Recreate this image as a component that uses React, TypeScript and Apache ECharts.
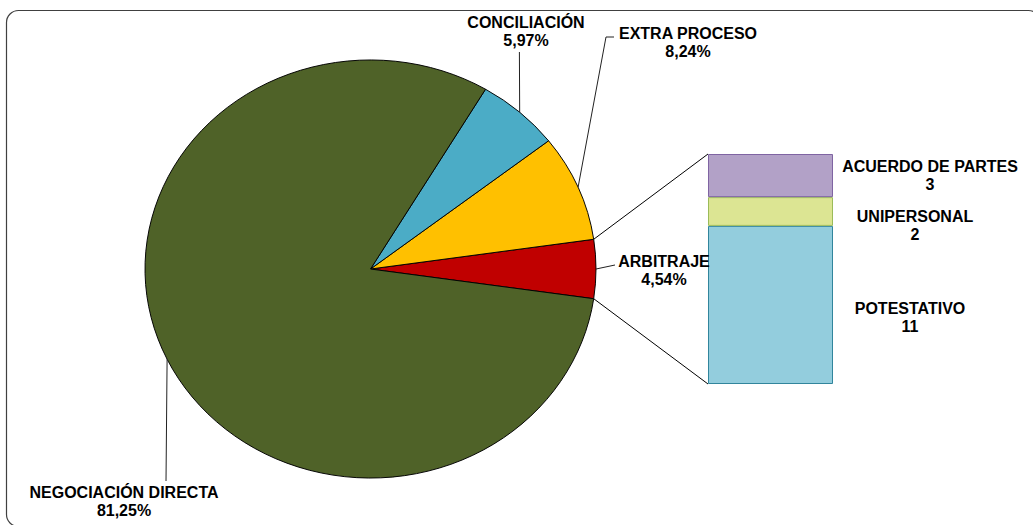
import React, { useEffect, useRef } from "react";
import * as echarts from "echarts";

// ---- data ----
const CATEGORIES = ["ARBITRAJE", "EXTRA PROCESO", "CONCILIACIÓN", "NEGOCIACIÓN DIRECTA"];
const PERCENTS = [4.54, 8.24, 5.97, 81.25];
const SUB_CATEGORIES = ["POTESTATIVO", "UNIPERSONAL", "ACUERDO DE PARTES"];
const SUB_VALUES = [11, 2, 3];

// ---- styles / layout ----
const PIE_COLORS = ["#C00000", "#FFC000", "#4BACC6", "#4F6228"];
const SUB_COLORS = ["#93CDDD", "#DCE593", "#B2A1C7"];
const SUB_BORDERS = ["#31859C", "#9BBB59", "#7F64A2"];
const CX = 370.5;
const CY = 269;
const RX = 225.5;
const RY = 209;
const BAR_LEFT = 708;
const BAR_TOP = 154;
const BAR_W = 125;
const BAR_H = 230;
const FONT = "'Liberation Sans', Arial, sans-serif";
const FS = 16;
// label text centre and leader-line points (after the slice edge point)
const LABEL_LAYOUT = [
  { text: [664, 270], line: [[615, 265]] },
  { text: [688, 42], line: [[606, 37], [614, 37]] },
  { text: [526, 31], line: [[519.4, 52]] },
  { text: [124, 501], line: [[166, 481]] },
];
const SUB_LABEL_POS: any[] = [
  [202, 92],
  [207, "100%"],
  [222, "50%"],
];

export default function App() {
  const ref = useRef<HTMLDivElement>(null);
  useEffect(() => {
    if (!ref.current) return;
    const chart = echarts.init(ref.current, null, { renderer: "svg" });
    const total = PERCENTS.reduce((a, b) => a + b, 0);
    const start = -(PERCENTS[0] / total) * 360 / 2;
    const angles: number[][] = [];
    let cum = 0;
    PERCENTS.forEach((v) => {
      const a0 = start + (cum / total) * 360;
      cum += v;
      const a1 = start + (cum / total) * 360;
      angles.push([a0, a1]);
    });
    const edge = (deg: number) => {
      const t = (deg * Math.PI) / 180;
      return [CX + RX * Math.cos(t), CY - RY * Math.sin(t)];
    };
    const fmt = (v: number) => v.toFixed(2).replace(".", ",") + "%";

    const renderItem = (params: any, api: any) => {
      const i = params.dataIndex;
      const v = api.value(0);
      const [a0, a1] = angles[i];
      const mid = (a0 + a1) / 2;
      const lay = LABEL_LAYOUT[i];
      const children: any[] = [
        {
          type: "sector",
          x: CX,
          y: CY,
          scaleY: RY / RX,
          shape: {
            cx: 0,
            cy: 0,
            r: RX,
            r0: 0,
            startAngle: (-a1 * Math.PI) / 180,
            endAngle: (-a0 * Math.PI) / 180,
            clockwise: true,
          },
          style: { fill: PIE_COLORS[i], stroke: "#000", lineWidth: 1, strokeNoScale: true },
        },
        {
          type: "polyline",
          shape: { points: [edge(mid), ...lay.line] },
          style: { stroke: "#222", lineWidth: 1, fill: "none" },
          z2: 5,
        },
        {
          type: "text",
          x: lay.text[0],
          y: lay.text[1],
          style: {
            text: CATEGORIES[i] + "\n" + fmt(v),
            fill: "#000",
            fontSize: FS,
            fontWeight: "bold",
            fontFamily: FONT,
            align: "center",
            verticalAlign: "middle",
            lineHeight: 18,
          },
          z2: 10,
        },
      ];
      if (i === 0) {
        const up = edge(a1);
        const dn = edge(a0);
        children.push(
          { type: "line", shape: { x1: up[0], y1: up[1], x2: BAR_LEFT, y2: BAR_TOP }, style: { stroke: "#000", lineWidth: 1 } },
          { type: "line", shape: { x1: dn[0], y1: dn[1], x2: BAR_LEFT, y2: BAR_TOP + BAR_H }, style: { stroke: "#000", lineWidth: 1 } }
        );
      }
      return { type: "group", children };
    };

    const subTotal = SUB_VALUES.reduce((a, b) => a + b, 0);

    chart.setOption({
      animation: false,
      backgroundColor: "#fff",
      graphic: [
        {
          type: "rect",
          shape: { x: 6.5, y: 10.5, width: 1034, height: 516, r: 12 },
          style: { fill: "none", stroke: "#404040", lineWidth: 1.2 },
          z: -10,
        },
      ],
      grid: { left: BAR_LEFT, top: BAR_TOP, width: BAR_W, height: BAR_H },
      xAxis: { type: "category", data: [""], show: false },
      yAxis: { type: "value", min: 0, max: subTotal, show: false },
      series: [
        {
          type: "custom",
          coordinateSystem: "none",
          renderItem,
          data: PERCENTS.map((v) => [v]),
          silent: true,
        },
        ...SUB_CATEGORIES.map((name, k) => ({
          type: "bar",
          name,
          stack: "sub",
          barWidth: "100%",
          data: [SUB_VALUES[k]],
          itemStyle: { color: SUB_COLORS[k], borderColor: SUB_BORDERS[k], borderWidth: 1 },
          label: {
            show: true,
            position: SUB_LABEL_POS[k],
            align: "center",
            verticalAlign: "middle",
            formatter: "{a}\n{c}",
            color: "#000",
            fontSize: FS,
            fontWeight: "bold",
            fontFamily: FONT,
            lineHeight: 18,
          },
        })),
      ],
    });
    return () => chart.dispose();
  }, []);
  return (
    <div
      ref={ref}
      style={{ position: "fixed", left: 0, top: 0, width: 1033, height: 525, background: "#fff" }}
    />
  );
}
